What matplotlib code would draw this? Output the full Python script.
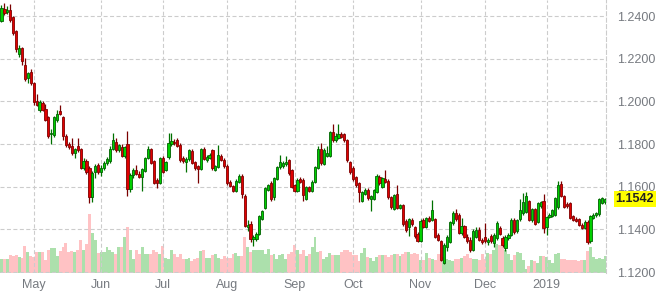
import numpy as np
import pandas as pd
import matplotlib
matplotlib.use('Agg')
import matplotlib.pyplot as plt
import matplotlib.ticker as mticker

plt.rcParams['font.family'] = ['Liberation Sans', 'DejaVu Sans']

# daily candles, 16 Apr 2018 .. 29 Jan 2019
dates = pd.bdate_range('2018-04-16', periods=207)

opens = [
    1.2378, 1.2432, 1.2420, 1.2430, 1.2395, 1.2330, 1.2220, 1.2249, 1.2172, 1.2108,
    1.2140, 1.2086, 1.2004, 1.1958, 1.1993, 1.1962, 1.1925, 1.1845, 1.1842, 1.1912,
    1.1956, 1.1925, 1.1836, 1.1800, 1.1790, 1.1760, 1.1790, 1.1775, 1.1690, 1.1720,
    1.1690, 1.1552, 1.1667, 1.1700, 1.1668, 1.1690, 1.1710, 1.1719, 1.1778, 1.1810,
    1.1771, 1.1787, 1.1746, 1.1800, 1.1590, 1.1655, 1.1680, 1.1662, 1.1645, 1.1676,
    1.1735, 1.1775, 1.1719, 1.1632, 1.1619, 1.1735, 1.1680, 1.1738, 1.1799, 1.1812,
    1.1819, 1.1798, 1.1735, 1.1714, 1.1730, 1.1767, 1.1714, 1.1695, 1.1683, 1.1778,
    1.1725, 1.1735, 1.1771, 1.1680, 1.1692, 1.1746, 1.1727, 1.1698, 1.1624, 1.1603,
    1.1581, 1.1624, 1.1651, 1.1556, 1.1410, 1.1425, 1.1354, 1.1354, 1.1381, 1.1450,
    1.1502, 1.1584, 1.1616, 1.1550, 1.1635, 1.1692, 1.1698, 1.1705, 1.1724, 1.1679,
    1.1608, 1.1581, 1.1635, 1.1632, 1.1544, 1.1597, 1.1581, 1.1624, 1.1690, 1.1775,
    1.1708, 1.1745, 1.1743, 1.1857, 1.1819, 1.1830, 1.1846, 1.1846, 1.1819, 1.1714,
    1.1687, 1.1644, 1.1616, 1.1533, 1.1568, 1.1584, 1.1545, 1.1545, 1.1576, 1.1648,
    1.1600, 1.1635, 1.1629, 1.1552, 1.1497, 1.1565, 1.1502, 1.1513, 1.1441, 1.1410,
    1.1444, 1.1410, 1.1381, 1.1346, 1.1444, 1.1413, 1.1455, 1.1444, 1.1448, 1.1375,
    1.1344, 1.1243, 1.1318, 1.1340, 1.1429, 1.1479, 1.1468, 1.1383, 1.1414, 1.1367,
    1.1352, 1.1305, 1.1367, 1.1398, 1.1352, 1.1367, 1.1340, 1.1371, 1.1336, 1.1360,
    1.1406, 1.1360, 1.1313, 1.1360, 1.1375, 1.1445, 1.1391, 1.1448, 1.1476, 1.1484,
    1.1535, 1.1442, 1.1495, 1.1433, 1.1510, 1.1535, 1.1411, 1.1460, 1.1464, 1.1468,
    1.1504, 1.1612, 1.1557, 1.1520, 1.1522, 1.1464, 1.1450, 1.1448, 1.1423, 1.1406,
    1.1437, 1.1344, 1.1455, 1.1466, 1.1473, 1.1525, 1.1530,
]
highs = [
    1.2452, 1.2462, 1.2447, 1.2455, 1.2402, 1.2336, 1.2262, 1.2256, 1.2205, 1.2140,
    1.2152, 1.2092, 1.2035, 1.2005, 1.2000, 1.1990, 1.1930, 1.1872, 1.1930, 1.1960,
    1.1985, 1.1932, 1.1848, 1.1812, 1.1830, 1.1782, 1.1830, 1.1780, 1.1737, 1.1728,
    1.1695, 1.1672, 1.1705, 1.1712, 1.1700, 1.1720, 1.1740, 1.1790, 1.1851, 1.1830,
    1.1800, 1.1800, 1.1792, 1.1859, 1.1665, 1.1690, 1.1700, 1.1675, 1.1690, 1.1740,
    1.1790, 1.1782, 1.1725, 1.1640, 1.1740, 1.1745, 1.1722, 1.1854, 1.1850, 1.1825,
    1.1828, 1.1805, 1.1742, 1.1738, 1.1778, 1.1775, 1.1720, 1.1702, 1.1782, 1.1785,
    1.1748, 1.1760, 1.1778, 1.1702, 1.1794, 1.1755, 1.1735, 1.1705, 1.1630, 1.1610,
    1.1635, 1.1658, 1.1658, 1.1565, 1.1445, 1.1440, 1.1372, 1.1390, 1.1470, 1.1492,
    1.1598, 1.1615, 1.1625, 1.1648, 1.1698, 1.1751, 1.1720, 1.1743, 1.1730, 1.1685,
    1.1615, 1.1640, 1.1645, 1.1640, 1.1605, 1.1605, 1.1630, 1.1698, 1.1790, 1.1806,
    1.1780, 1.1790, 1.1862, 1.1894, 1.1850, 1.1894, 1.1855, 1.1852, 1.1825, 1.1720,
    1.1695, 1.1650, 1.1622, 1.1580, 1.1595, 1.1592, 1.1562, 1.1590, 1.1658, 1.1655,
    1.1648, 1.1679, 1.1635, 1.1558, 1.1565, 1.1608, 1.1520, 1.1520, 1.1448, 1.1455,
    1.1452, 1.1418, 1.1388, 1.1448, 1.1452, 1.1460, 1.1462, 1.1537, 1.1455, 1.1382,
    1.1350, 1.1335, 1.1372, 1.1440, 1.1485, 1.1495, 1.1475, 1.1453, 1.1420, 1.1378,
    1.1365, 1.1400, 1.1412, 1.1410, 1.1360, 1.1429, 1.1358, 1.1380, 1.1385, 1.1440,
    1.1415, 1.1368, 1.1372, 1.1385, 1.1452, 1.1452, 1.1450, 1.1541, 1.1569, 1.1577,
    1.1540, 1.1500, 1.1500, 1.1528, 1.1535, 1.1566, 1.1465, 1.1475, 1.1496, 1.1552,
    1.1628, 1.1628, 1.1562, 1.1530, 1.1528, 1.1470, 1.1458, 1.1455, 1.1430, 1.1442,
    1.1445, 1.1468, 1.1478, 1.1480, 1.1546, 1.1552, 1.1548,
]
lows = [
    1.2372, 1.2405, 1.2408, 1.2374, 1.2310, 1.2231, 1.2208, 1.2172, 1.2095, 1.2088,
    1.2078, 1.1985, 1.1980, 1.1950, 1.1955, 1.1908, 1.1830, 1.1802, 1.1835, 1.1905,
    1.1935, 1.1818, 1.1788, 1.1778, 1.1750, 1.1735, 1.1765, 1.1682, 1.1680, 1.1660,
    1.1524, 1.1529, 1.1640, 1.1660, 1.1650, 1.1678, 1.1700, 1.1710, 1.1772, 1.1765,
    1.1762, 1.1740, 1.1735, 1.1556, 1.1575, 1.1640, 1.1655, 1.1640, 1.1580, 1.1670,
    1.1728, 1.1705, 1.1612, 1.1592, 1.1612, 1.1665, 1.1672, 1.1730, 1.1792, 1.1798,
    1.1785, 1.1718, 1.1712, 1.1668, 1.1722, 1.1705, 1.1680, 1.1619, 1.1678, 1.1725,
    1.1718, 1.1728, 1.1680, 1.1672, 1.1688, 1.1720, 1.1688, 1.1610, 1.1598, 1.1575,
    1.1575, 1.1618, 1.1549, 1.1410, 1.1395, 1.1343, 1.1322, 1.1345, 1.1375, 1.1445,
    1.1495, 1.1578, 1.1535, 1.1540, 1.1630, 1.1685, 1.1690, 1.1695, 1.1655, 1.1595,
    1.1575, 1.1575, 1.1618, 1.1533, 1.1538, 1.1575, 1.1575, 1.1618, 1.1685, 1.1700,
    1.1700, 1.1738, 1.1738, 1.1810, 1.1810, 1.1825, 1.1828, 1.1812, 1.1718, 1.1662,
    1.1628, 1.1600, 1.1529, 1.1528, 1.1560, 1.1540, 1.1486, 1.1538, 1.1570, 1.1610,
    1.1595, 1.1618, 1.1545, 1.1498, 1.1490, 1.1495, 1.1495, 1.1418, 1.1390, 1.1370,
    1.1418, 1.1362, 1.1340, 1.1340, 1.1408, 1.1405, 1.1435, 1.1438, 1.1360, 1.1345,
    1.1252, 1.1240, 1.1300, 1.1335, 1.1420, 1.1440, 1.1378, 1.1375, 1.1360, 1.1335,
    1.1295, 1.1298, 1.1360, 1.1345, 1.1330, 1.1335, 1.1325, 1.1335, 1.1320, 1.1352,
    1.1372, 1.1320, 1.1300, 1.1350, 1.1368, 1.1380, 1.1385, 1.1440, 1.1470, 1.1478,
    1.1440, 1.1435, 1.1420, 1.1428, 1.1500, 1.1383, 1.1375, 1.1452, 1.1458, 1.1462,
    1.1498, 1.1550, 1.1500, 1.1500, 1.1448, 1.1438, 1.1435, 1.1415, 1.1400, 1.1400,
    1.1330, 1.1338, 1.1448, 1.1460, 1.1465, 1.1518, 1.1520,
]
closes = [
    1.2436, 1.2416, 1.2428, 1.2381, 1.2322, 1.2245, 1.2250, 1.2188, 1.2107, 1.2133,
    1.2086, 1.1995, 1.1985, 1.1995, 1.1960, 1.1915, 1.1840, 1.1850, 1.1925, 1.1940,
    1.1942, 1.1840, 1.1794, 1.1785, 1.1758, 1.1775, 1.1770, 1.1690, 1.1722, 1.1668,
    1.1552, 1.1665, 1.1697, 1.1670, 1.1690, 1.1712, 1.1730, 1.1778, 1.1819, 1.1771,
    1.1795, 1.1746, 1.1785, 1.1588, 1.1655, 1.1680, 1.1662, 1.1648, 1.1683, 1.1735,
    1.1778, 1.1711, 1.1619, 1.1616, 1.1735, 1.1671, 1.1714, 1.1806, 1.1814, 1.1805,
    1.1790, 1.1724, 1.1719, 1.1730, 1.1771, 1.1711, 1.1687, 1.1682, 1.1775, 1.1730,
    1.1740, 1.1751, 1.1687, 1.1695, 1.1751, 1.1727, 1.1695, 1.1616, 1.1603, 1.1581,
    1.1627, 1.1651, 1.1565, 1.1417, 1.1420, 1.1354, 1.1365, 1.1381, 1.1465, 1.1486,
    1.1592, 1.1608, 1.1544, 1.1640, 1.1692, 1.1714, 1.1711, 1.1714, 1.1663, 1.1600,
    1.1581, 1.1632, 1.1624, 1.1560, 1.1600, 1.1581, 1.1624, 1.1692, 1.1775, 1.1711,
    1.1771, 1.1760, 1.1857, 1.1819, 1.1838, 1.1846, 1.1835, 1.1819, 1.1724, 1.1671,
    1.1635, 1.1608, 1.1576, 1.1576, 1.1587, 1.1548, 1.1556, 1.1584, 1.1651, 1.1616,
    1.1640, 1.1624, 1.1552, 1.1505, 1.1560, 1.1502, 1.1513, 1.1425, 1.1397, 1.1449,
    1.1425, 1.1370, 1.1346, 1.1441, 1.1413, 1.1454, 1.1441, 1.1489, 1.1367, 1.1352,
    1.1259, 1.1329, 1.1367, 1.1437, 1.1479, 1.1448, 1.1383, 1.1414, 1.1367, 1.1344,
    1.1305, 1.1395, 1.1398, 1.1352, 1.1340, 1.1344, 1.1349, 1.1344, 1.1375, 1.1429,
    1.1380, 1.1329, 1.1367, 1.1375, 1.1445, 1.1386, 1.1445, 1.1491, 1.1530, 1.1557,
    1.1445, 1.1495, 1.1426, 1.1522, 1.1530, 1.1406, 1.1460, 1.1468, 1.1491, 1.1546,
    1.1608, 1.1557, 1.1507, 1.1508, 1.1453, 1.1445, 1.1440, 1.1420, 1.1406, 1.1437,
    1.1340, 1.1464, 1.1470, 1.1475, 1.1541, 1.1548, 1.1542,
]
volumes = [
    14, 14, 14, 18, 17, 18, 16, 15, 27, 21, 17, 16, 21, 21, 21, 13, 23, 25, 25, 17,
    22, 26, 30, 21, 22, 21, 23, 33, 23, 29, 59, 40, 33, 20, 21, 21, 26, 23, 21, 19,
    26, 26, 36, 46, 23, 14, 23, 19, 26, 19, 19, 19, 23, 21, 19, 27, 15, 14, 23, 19,
    16, 19, 14, 14, 15, 12, 14, 15, 22, 23, 15, 15, 18, 19, 15, 14, 17, 15, 15, 19,
    20, 17, 17, 36, 26, 21, 23, 23, 23, 23, 19, 24, 18, 19, 14, 18, 19, 14, 19, 21,
    28, 23, 19, 23, 17, 19, 26, 36, 21, 22, 14, 16, 20, 18, 18, 18, 21, 23, 23, 21,
    18, 18, 12, 20, 25, 16, 15, 12, 16, 18, 18, 18, 16, 18, 19, 19, 17, 19, 21, 21,
    19, 20, 19, 13, 13, 20, 15, 14, 13, 19, 19, 16, 14, 13, 12, 14, 14, 15, 17, 19,
    15, 14, 14, 13, 19, 14, 20, 19, 23, 29, 28, 31, 23, 19, 13, 18, 21, 20, 13, 4,
    7, 13, 12, 10, 17, 17, 16, 13, 10, 19, 20, 14, 14, 13, 13, 13, 13, 12, 13, 13,
    22, 26, 16, 14, 15, 14, 17,
]

o = np.array(opens)
h = np.array(highs)
l = np.array(lows)
c = np.array(closes)
v = np.array(volumes)
x = np.arange(len(c))
up = c >= o

fig = plt.figure(figsize=(6.56, 2.94), dpi=100)
ax = fig.add_axes([0, 21 / 294, 606 / 656, 273 / 294])
axv = ax.twinx()

# volume underneath
axv.bar(x, v, width=1.0, color=np.where(up, '#ace0ac', '#ffc2c4'), linewidth=0)
axv.set_ylim(0, 273)
axv.axis('off')
ax.set_zorder(axv.get_zorder() + 1)
ax.patch.set_visible(False)

# candles
wick = np.where(up, '#007000', '#7a0000')
ax.vlines(x, l, h, colors=wick, linewidth=0.9, zorder=3)
ax.bar(x, np.abs(c - o), bottom=np.minimum(o, c), width=0.75,
       color=np.where(up, '#00d000', '#e00000'),
       edgecolor=np.where(up, '#006000', '#800000'), linewidth=0.6, zorder=4)

ax.set_xlim(-0.51, 206.3)
ax.set_ylim(1.1196, 1.2475)

month_idx = [i for i in range(1, len(dates)) if dates[i].month != dates[i - 1].month]
month_lbl = [dates[i].strftime('%Y') if dates[i].month == 1 else dates[i].strftime('%b')
             for i in month_idx]
ax.set_xticks(month_idx)
ax.set_xticklabels(month_lbl)
ax.set_yticks([1.12, 1.14, 1.16, 1.18, 1.20, 1.22, 1.24])
ax.yaxis.set_major_formatter(mticker.FormatStrFormatter('%.4f'))
ax.yaxis.tick_right()

dash = (0, (3.6, 2.2))
ax.grid(True, linestyle=dash, color='#cccccc', linewidth=0.8, zorder=0)
ax.set_axisbelow(True)
for s in ['top', 'left', 'bottom']:
    ax.spines[s].set_visible(False)
ax.spines['right'].set_linestyle(dash)
ax.spines['right'].set_color('#cccccc')
ax.spines['right'].set_linewidth(0.8)

ax.tick_params(axis='both', length=0, labelsize=9, labelcolor='#767a80')
ax.tick_params(axis='y', pad=8)
ax.tick_params(axis='x', pad=4)

ax.annotate(f'{c[-1]:.4f}', xy=(1, c[-1]), xycoords=('axes fraction', 'data'),
            xytext=(7, 0), textcoords='offset points', va='center', ha='left',
            fontsize=9, fontweight='bold', color='#222222',
            bbox=dict(boxstyle='square,pad=0.15', fc='#ffff00', ec='none'))

fig.savefig('out.png', dpi=100)
